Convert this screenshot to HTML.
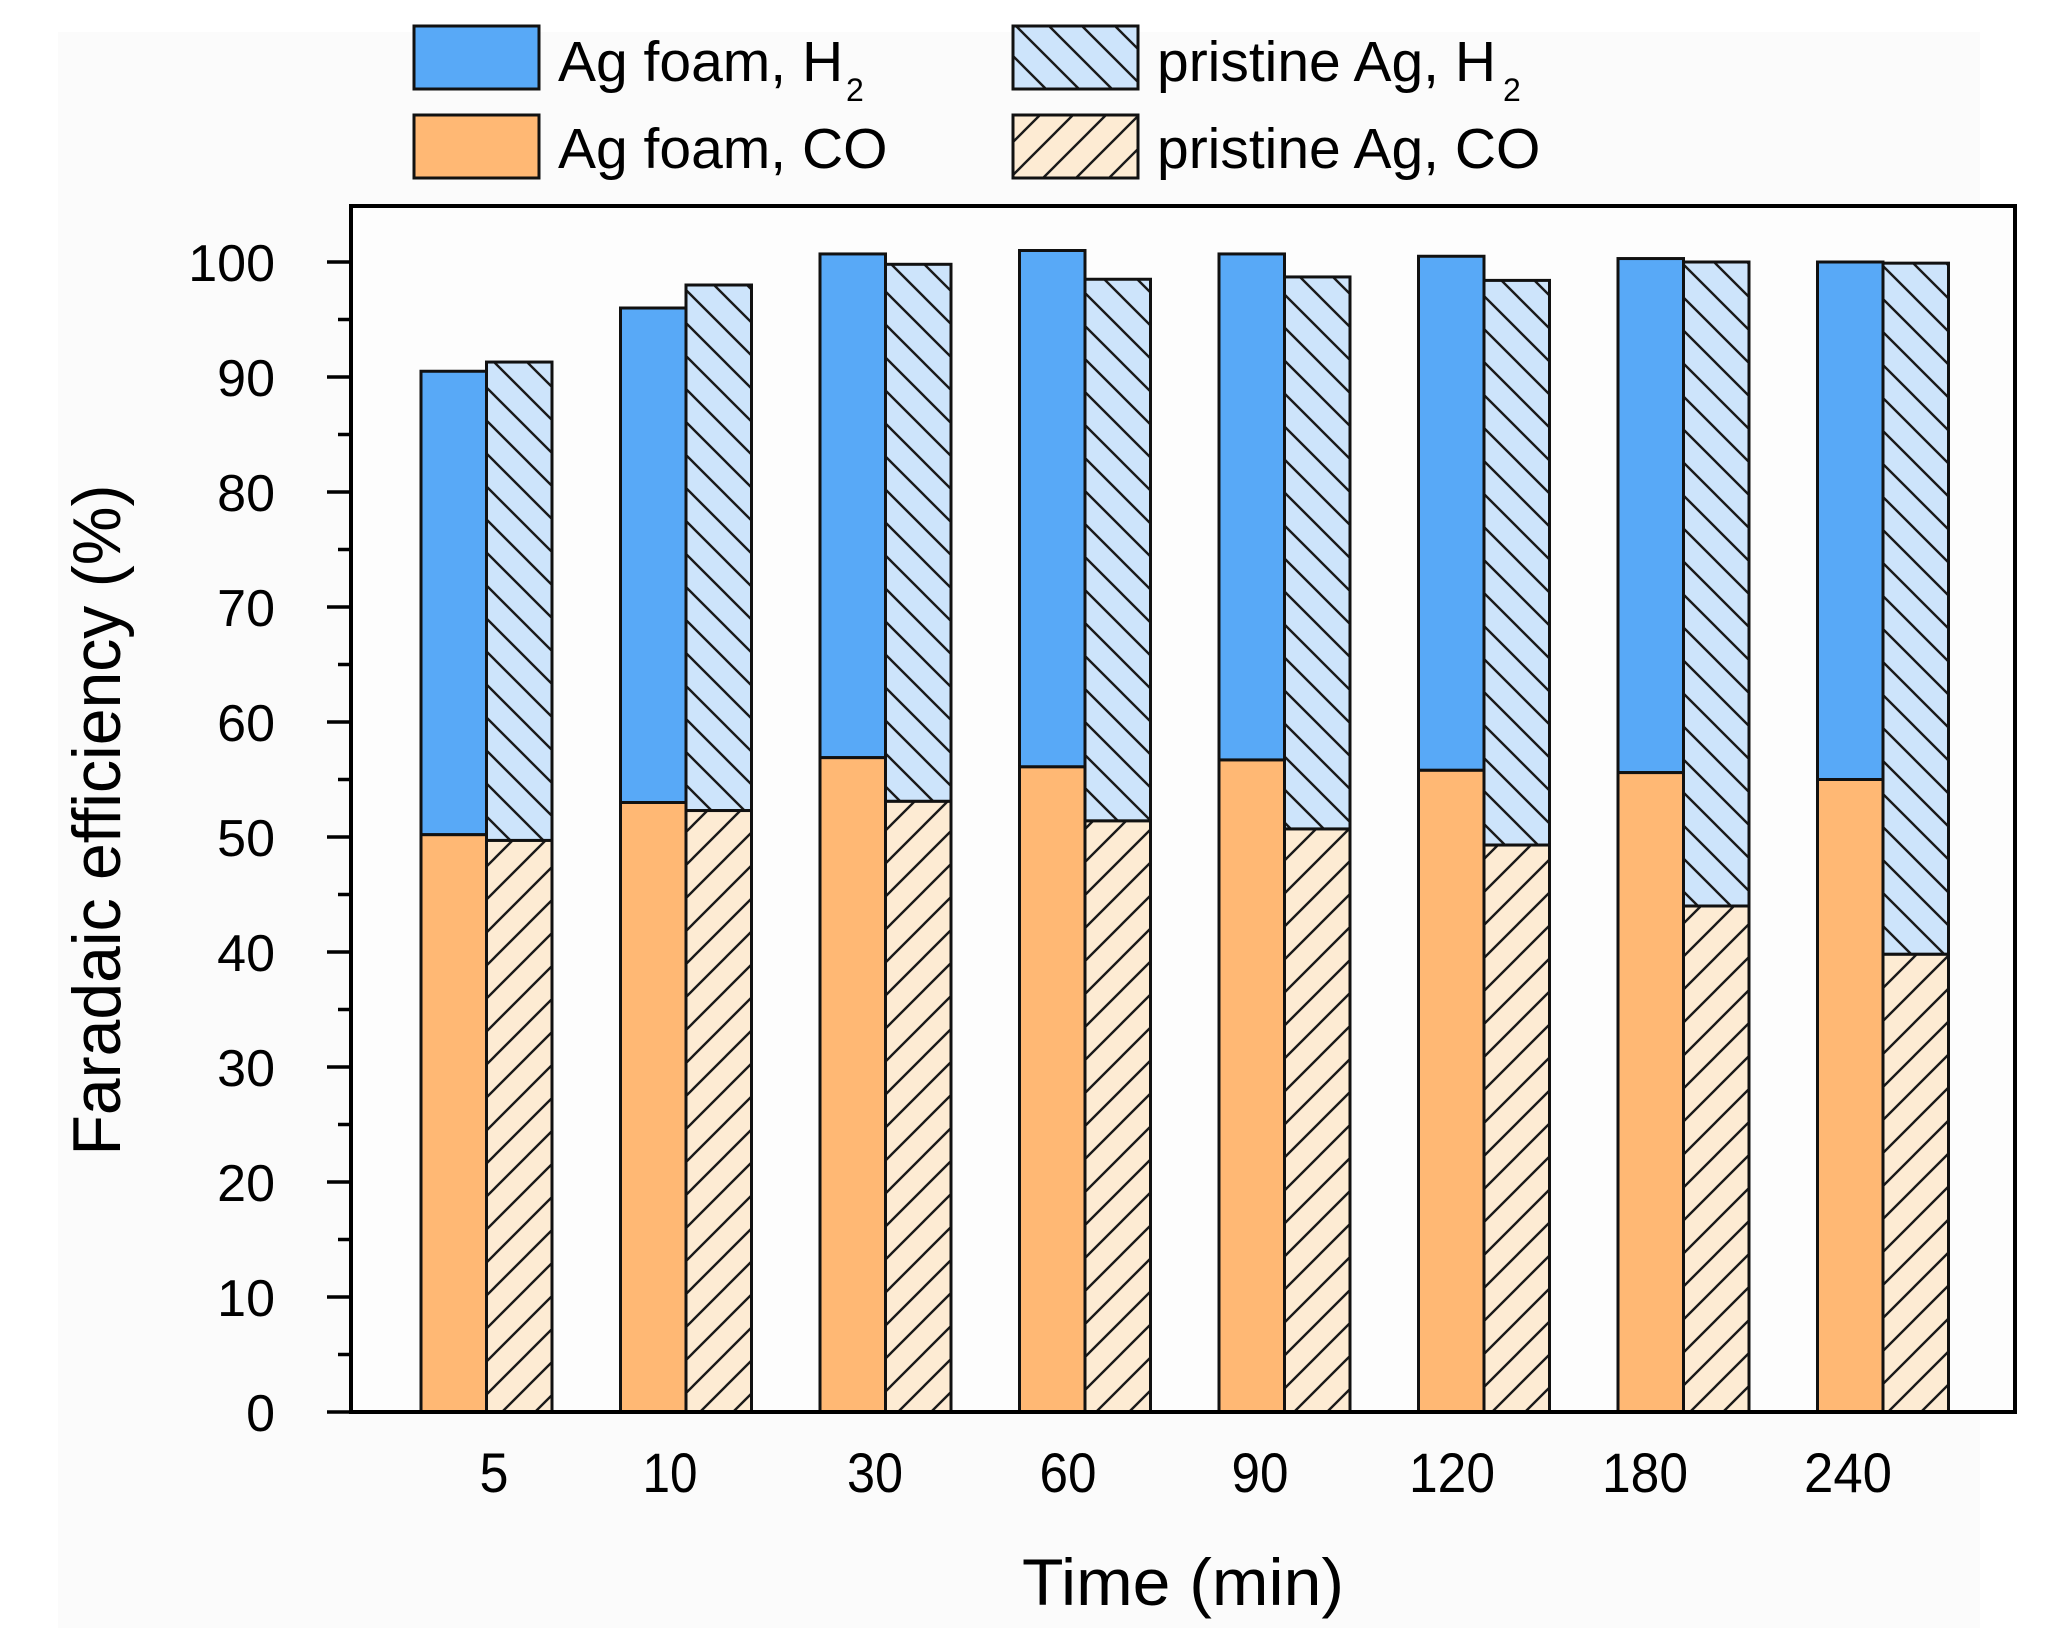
<!DOCTYPE html>
<html><head><meta charset="utf-8">
<style>
html,body{margin:0;padding:0;background:#fff;}
svg{display:block;}
text{font-family:"Liberation Sans",Arial,sans-serif;fill:#000;}
</style></head>
<body>
<svg width="2056" height="1628" viewBox="0 0 2056 1628" xmlns="http://www.w3.org/2000/svg">
<defs>
<pattern id="hb" patternUnits="userSpaceOnUse" width="33" height="33">
 <rect width="33" height="33" fill="#cde4fb"/>
 <path d="M-5,-5 L38,38 M-5,28 L5,38 M28,-5 L38,5" stroke="#1a1a1a" stroke-width="2.4"/>
</pattern>
<pattern id="ho" patternUnits="userSpaceOnUse" width="33" height="33">
 <rect width="33" height="33" fill="#fdebd3"/>
 <path d="M-5,38 L38,-5 M-5,5 L5,-5 M28,38 L38,28" stroke="#1a1a1a" stroke-width="2.4"/>
</pattern>
</defs>
<rect x="0" y="0" width="2056" height="1628" fill="#ffffff"/>
<rect x="58" y="32" width="1922" height="1596" fill="#fbfbfb"/>
<rect x="351" y="206" width="1664" height="1206" fill="#fdfdfd"/>

<!-- Legend -->
<g stroke="#111" stroke-width="3">
<rect x="414" y="26" width="125" height="63" fill="#58a9f7"/>
<rect x="414" y="115" width="125" height="63" fill="#ffb874"/>
<rect x="1013" y="26" width="125" height="63" fill="url(#hb)"/>
<rect x="1013" y="115" width="125" height="63" fill="url(#ho)"/>
</g>
<text x="558" y="81" font-size="57">Ag foam, H</text>
<text x="846" y="101" font-size="32">2</text>
<text x="558" y="168" font-size="57">Ag foam, CO</text>
<text x="1157" y="81" font-size="57">pristine Ag, H</text>
<text x="1503" y="101" font-size="32">2</text>
<text x="1157" y="168" font-size="57">pristine Ag, CO</text>

<!-- Bars -->
<g stroke="#111" stroke-width="3">
<!-- G0 -->
<rect x="421" y="371.25" width="65.5" height="463.45" fill="#58a9f7"/>
<rect x="421" y="834.7" width="65.5" height="577.3" fill="#ffb874"/>
<rect x="486.5" y="362.05" width="65.5" height="478.4" fill="url(#hb)"/>
<rect x="486.5" y="840.45" width="65.5" height="571.55" fill="url(#ho)"/>
<!-- G1 -->
<rect x="620.5" y="308" width="65.5" height="494.5" fill="#58a9f7"/>
<rect x="620.5" y="802.5" width="65.5" height="609.5" fill="#ffb874"/>
<rect x="686" y="285" width="65.5" height="525.55" fill="url(#hb)"/>
<rect x="686" y="810.55" width="65.5" height="601.45" fill="url(#ho)"/>
<!-- G2 -->
<rect x="820" y="253.95" width="65.5" height="503.7" fill="#58a9f7"/>
<rect x="820" y="757.65" width="65.5" height="654.35" fill="#ffb874"/>
<rect x="885.5" y="264.3" width="65.5" height="537.05" fill="url(#hb)"/>
<rect x="885.5" y="801.35" width="65.5" height="610.65" fill="url(#ho)"/>
<!-- G3 -->
<rect x="1019.5" y="250.5" width="65.5" height="516.35" fill="#58a9f7"/>
<rect x="1019.5" y="766.85" width="65.5" height="645.15" fill="#ffb874"/>
<rect x="1085" y="279.25" width="65.5" height="541.65" fill="url(#hb)"/>
<rect x="1085" y="820.9" width="65.5" height="591.1" fill="url(#ho)"/>
<!-- G4 -->
<rect x="1219" y="253.95" width="65.5" height="506" fill="#58a9f7"/>
<rect x="1219" y="759.95" width="65.5" height="652.05" fill="#ffb874"/>
<rect x="1284.5" y="276.95" width="65.5" height="552" fill="url(#hb)"/>
<rect x="1284.5" y="828.95" width="65.5" height="583.05" fill="url(#ho)"/>
<!-- G5 -->
<rect x="1418.5" y="256.25" width="65.5" height="514.05" fill="#58a9f7"/>
<rect x="1418.5" y="770.3" width="65.5" height="641.7" fill="#ffb874"/>
<rect x="1484" y="280.4" width="65.5" height="564.65" fill="url(#hb)"/>
<rect x="1484" y="845.05" width="65.5" height="566.95" fill="url(#ho)"/>
<!-- G6 -->
<rect x="1618" y="258.55" width="65.5" height="514.05" fill="#58a9f7"/>
<rect x="1618" y="772.6" width="65.5" height="639.4" fill="#ffb874"/>
<rect x="1683.5" y="262" width="65.5" height="644" fill="url(#hb)"/>
<rect x="1683.5" y="906" width="65.5" height="506" fill="url(#ho)"/>
<!-- G7 -->
<rect x="1817.5" y="262" width="65.5" height="517.5" fill="#58a9f7"/>
<rect x="1817.5" y="779.5" width="65.5" height="632.5" fill="#ffb874"/>
<rect x="1883" y="263.15" width="65.5" height="691.15" fill="url(#hb)"/>
<rect x="1883" y="954.3" width="65.5" height="457.7" fill="url(#ho)"/>
</g>

<!-- Frame -->
<rect x="351" y="206" width="1664" height="1206" fill="none" stroke="#000" stroke-width="4"/>

<!-- Y ticks -->
<g stroke="#000" stroke-width="3.5">
<path d="M327,1412H351M327,1297H351M327,1182H351M327,1067H351M327,952H351M327,837H351M327,722H351M327,607H351M327,492H351M327,377H351M327,262H351"/>
<path d="M338,1354.5H351M338,1239.5H351M338,1124.5H351M338,1009.5H351M338,894.5H351M338,779.5H351M338,664.5H351M338,549.5H351M338,434.5H351M338,319.5H351"/>
</g>
<g font-size="52" text-anchor="end">
<text x="275" y="1431">0</text>
<text x="275" y="1316">10</text>
<text x="275" y="1201">20</text>
<text x="275" y="1086">30</text>
<text x="275" y="971">40</text>
<text x="275" y="856">50</text>
<text x="275" y="741">60</text>
<text x="275" y="626">70</text>
<text x="275" y="511">80</text>
<text x="275" y="396">90</text>
<text x="275" y="281">100</text>
</g>

<!-- X labels -->
<g font-size="56" text-anchor="middle">
<text x="494" y="1492" textLength="29" lengthAdjust="spacingAndGlyphs">5</text>
<text x="670" y="1492" textLength="55" lengthAdjust="spacingAndGlyphs">10</text>
<text x="875" y="1492" textLength="56" lengthAdjust="spacingAndGlyphs">30</text>
<text x="1068" y="1492" textLength="57" lengthAdjust="spacingAndGlyphs">60</text>
<text x="1260" y="1492" textLength="57" lengthAdjust="spacingAndGlyphs">90</text>
<text x="1452" y="1492" textLength="86" lengthAdjust="spacingAndGlyphs">120</text>
<text x="1645" y="1492" textLength="86" lengthAdjust="spacingAndGlyphs">180</text>
<text x="1848" y="1492" textLength="88" lengthAdjust="spacingAndGlyphs">240</text>
</g>

<!-- Axis titles -->
<text x="1183" y="1605" font-size="66" text-anchor="middle" textLength="322" lengthAdjust="spacingAndGlyphs">Time (min)</text>
<text transform="translate(120,820) rotate(-90)" x="0" y="0" font-size="68" text-anchor="middle" textLength="671" lengthAdjust="spacingAndGlyphs">Faradaic efficiency (%)</text>
</svg>
</body></html>
